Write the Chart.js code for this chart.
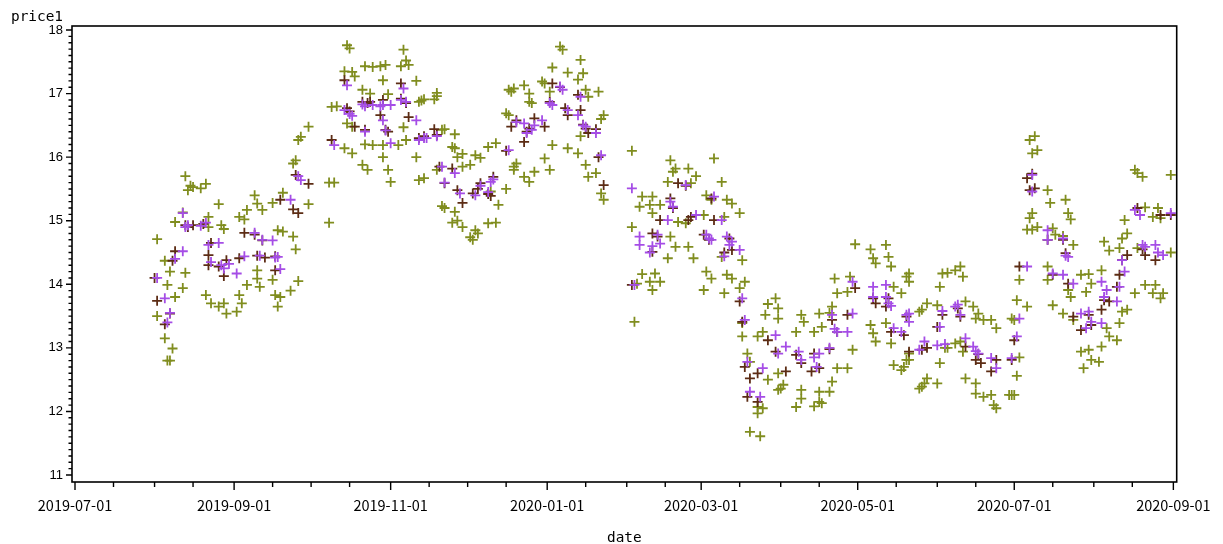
<!DOCTYPE html>
<html>
<head>
<meta charset="utf-8">
<title>price1 by date</title>
<script src="https://cdn.jsdelivr.net/npm/chart.js@4/dist/chart.umd.min.js"></script>
<style>
  html, body { margin: 0; padding: 0; background: #fff; }
  canvas { display: block; }
</style>
</head>
<body>
<canvas id="chart" width="1223" height="544"></canvas>
<script>
// Tick labels
const xTickLabels = ['2019-07-01', '2019-09-01', '2019-11-01', '2020-01-01', '2020-03-01', '2020-05-01', '2020-07-01', '2020-09-01'];
const yTickLabels = [11, 12, 13, 14, 15, 16, 17, 18];

// Series: [date, price1]
const olivePoints = [
  ['2019-08-02',14.71],['2019-08-02',13.5],['2019-08-05',13.15],['2019-08-05',14.37],['2019-08-06',12.8],['2019-08-06',13.99],['2019-08-07',12.8],['2019-08-07',14.2],['2019-08-08',12.99],['2019-08-09',13.8],['2019-08-09',14.98],['2019-08-12',13.94],['2019-08-12',15.13],['2019-08-13',15.7],['2019-08-13',14.18],['2019-08-14',15.48],['2019-08-15',15.55],['2019-08-16',15.53],['2019-08-19',15.51],['2019-08-21',15.58],['2019-08-21',13.83],['2019-08-22',15.06],['2019-08-22',14.9],['2019-08-23',13.7],['2019-08-26',15.26],['2019-08-26',13.65],['2019-08-27',14.93],['2019-08-28',14.87],['2019-08-28',13.7],['2019-08-29',13.54],
  ['2019-09-02',13.57],['2019-09-03',15.06],['2019-09-03',13.83],['2019-09-04',13.7],['2019-09-05',15.02],['2019-09-06',15.17],['2019-09-06',13.99],['2019-09-09',15.4],['2019-09-10',15.27],['2019-09-10',14.22],['2019-09-10',14.09],['2019-09-11',13.96],['2019-09-12',15.17],['2019-09-16',15.28],['2019-09-16',14.07],['2019-09-17',13.83],['2019-09-18',13.65],['2019-09-18',14.85],['2019-09-19',13.8],['2019-09-20',15.44],['2019-09-20',14.83],['2019-09-23',13.9],['2019-09-24',14.75],['2019-09-24',15.9],['2019-09-25',14.55],['2019-09-25',15.95],['2019-09-26',16.27],['2019-09-26',14.05],['2019-09-27',16.32],['2019-09-30',16.48],['2019-09-30',15.26],
  ['2019-10-08',14.97],['2019-10-08',15.6],['2019-10-09',16.79],['2019-10-10',15.6],['2019-10-11',16.8],['2019-10-14',17.35],['2019-10-14',16.14],['2019-10-15',17.76],['2019-10-15',16.53],['2019-10-16',17.71],['2019-10-17',17.34],['2019-10-17',16.48],['2019-10-17',16.06],['2019-10-18',17.27],['2019-10-21',17.06],['2019-10-21',15.88],['2019-10-22',17.43],['2019-10-22',16.2],['2019-10-23',15.8],['2019-10-24',17.0],['2019-10-25',17.42],['2019-10-25',16.19],['2019-10-28',17.43],['2019-10-29',17.21],['2019-10-29',16.19],['2019-10-29',16.0],['2019-10-30',17.45],['2019-10-31',16.99],['2019-10-31',15.8],
  ['2019-11-01',15.61],['2019-11-04',16.19],['2019-11-05',17.43],['2019-11-06',17.69],['2019-11-06',16.47],['2019-11-07',17.52],['2019-11-07',16.27],['2019-11-08',17.45],['2019-11-11',17.2],['2019-11-11',16.0],['2019-11-12',16.87],['2019-11-12',15.64],['2019-11-13',16.89],['2019-11-14',16.91],['2019-11-14',15.67],['2019-11-18',16.91],['2019-11-19',17.01],['2019-11-19',16.96],['2019-11-19',15.8],['2019-11-21',16.43],['2019-11-21',15.23],['2019-11-22',16.44],['2019-11-22',15.2],['2019-11-25',16.16],['2019-11-25',14.97],['2019-11-26',16.36],['2019-11-26',16.14],['2019-11-26',15.14],['2019-11-27',16.0],['2019-11-27',15.0],['2019-11-29',16.05],['2019-11-29',15.85],['2019-11-29',14.9],
  ['2019-12-02',15.88],['2019-12-02',14.74],['2019-12-03',14.7],['2019-12-04',16.03],['2019-12-04',14.85],['2019-12-05',14.8],['2019-12-06',15.99],['2019-12-09',16.16],['2019-12-09',14.96],['2019-12-10',15.46],['2019-12-12',16.22],['2019-12-12',14.97],['2019-12-13',15.25],['2019-12-16',16.69],['2019-12-16',15.5],['2019-12-17',16.66],['2019-12-17',17.06],['2019-12-18',17.03],['2019-12-19',17.08],['2019-12-19',15.85],['2019-12-19',15.8],['2019-12-20',15.9],['2019-12-23',17.13],['2019-12-23',15.69],['2019-12-25',17.0],['2019-12-25',16.87],['2019-12-25',15.61],['2019-12-26',16.85],['2019-12-27',15.77],['2019-12-30',17.19],['2019-12-31',17.16],['2019-12-31',15.98],
  ['2020-01-02',17.03],['2020-01-02',15.8],['2020-01-03',17.41],['2020-01-03',16.19],['2020-01-06',17.74],['2020-01-07',17.69],['2020-01-09',17.33],['2020-01-09',16.14],['2020-01-13',17.22],['2020-01-13',16.06],['2020-01-14',17.53],['2020-01-14',16.33],['2020-01-15',17.32],['2020-01-16',17.06],['2020-01-16',15.88],['2020-01-17',16.95],['2020-01-17',15.69],['2020-01-20',15.75],['2020-01-21',17.03],['2020-01-22',16.6],['2020-01-22',15.43],['2020-01-23',16.66],['2020-01-23',15.33],
  ['2020-02-03',16.1],['2020-02-03',14.9],['2020-02-04',13.41],['2020-02-05',14.01],['2020-02-06',15.22],['2020-02-07',15.38],['2020-02-07',14.16],['2020-02-10',15.25],['2020-02-10',14.04],['2020-02-11',15.38],['2020-02-11',15.12],['2020-02-11',13.91],['2020-02-12',14.17],['2020-02-14',15.25],['2020-02-14',14.04],['2020-02-17',15.61],['2020-02-17',14.41],['2020-02-18',15.95],['2020-02-18',14.75],['2020-02-19',15.77],['2020-02-20',15.82],['2020-02-20',14.59],['2020-02-21',14.98],['2020-02-24',14.96],['2020-02-25',15.82],['2020-02-25',14.59],['2020-02-26',15.59],['2020-02-27',14.41],['2020-02-28',15.7],
  ['2020-03-02',15.09],['2020-03-02',13.91],['2020-03-03',15.4],['2020-03-03',14.2],['2020-03-05',15.33],['2020-03-05',14.09],['2020-03-06',15.98],['2020-03-09',15.61],['2020-03-09',14.43],['2020-03-10',15.06],['2020-03-10',13.86],['2020-03-11',15.33],['2020-03-11',14.15],['2020-03-13',15.27],['2020-03-13',14.09],['2020-03-16',15.12],['2020-03-16',13.94],['2020-03-17',14.38],['2020-03-17',13.39],['2020-03-17',13.18],['2020-03-18',14.04],['2020-03-19',12.91],['2020-03-20',12.78],['2020-03-20',11.68],['2020-03-23',13.18],['2020-03-23',12.07],['2020-03-23',11.97],['2020-03-24',11.61],['2020-03-25',13.25],['2020-03-25',12.05],['2020-03-26',13.52],['2020-03-27',13.69],['2020-03-27',12.5],['2020-03-30',13.78],['2020-03-31',13.62],['2020-03-31',13.46],['2020-03-31',12.6],['2020-03-31',12.34],
  ['2020-04-01',12.36],['2020-04-02',12.42],['2020-04-07',13.25],['2020-04-07',12.07],['2020-04-09',13.52],['2020-04-09',12.2],['2020-04-09',12.34],['2020-04-10',13.41],['2020-04-14',13.25],['2020-04-14',12.08],['2020-04-16',13.54],['2020-04-16',12.31],['2020-04-16',12.15],['2020-04-17',13.33],['2020-04-17',12.13],['2020-04-20',13.55],['2020-04-20',12.31],['2020-04-21',13.65],['2020-04-21',12.47],['2020-04-22',14.09],['2020-04-23',13.86],['2020-04-23',12.68],['2020-04-27',13.88],['2020-04-27',12.68],['2020-04-28',14.12],['2020-04-29',12.97],['2020-04-30',14.63],
  ['2020-05-06',14.55],['2020-05-06',13.36],['2020-05-07',14.41],['2020-05-07',13.23],['2020-05-08',14.33],['2020-05-08',13.1],['2020-05-12',14.62],['2020-05-12',13.39],['2020-05-13',14.43],['2020-05-14',14.28],['2020-05-14',13.07],['2020-05-15',13.96],['2020-05-15',12.73],['2020-05-18',13.86],['2020-05-18',12.65],['2020-05-19',12.7],['2020-05-20',14.12],['2020-05-20',12.81],['2020-05-21',14.04],['2020-05-21',14.17],['2020-05-21',12.81],['2020-05-21',12.91],['2020-05-25',13.57],['2020-05-25',12.36],['2020-05-26',13.6],['2020-05-26',12.39],['2020-05-27',12.44],['2020-05-28',13.7],['2020-05-28',12.52],
  ['2020-06-01',13.67],['2020-06-01',12.44],['2020-06-02',13.96],['2020-06-02',12.76],['2020-06-03',14.17],['2020-06-04',13.0],['2020-06-05',14.18],['2020-06-05',13.0],['2020-06-08',14.22],['2020-06-08',13.07],['2020-06-10',14.28],['2020-06-10',13.1],['2020-06-11',14.12],['2020-06-11',12.94],['2020-06-12',13.73],['2020-06-12',12.52],['2020-06-15',13.65],['2020-06-16',13.46],['2020-06-16',12.44],['2020-06-16',12.28],['2020-06-17',13.54],['2020-06-19',13.44],['2020-06-19',12.23],['2020-06-22',13.44],['2020-06-22',12.26],['2020-06-23',12.1],['2020-06-24',13.31],['2020-06-24',12.05],['2020-06-29',12.26],['2020-06-30',13.46],['2020-06-30',12.26],
  ['2020-07-01',13.44],['2020-07-01',12.26],['2020-07-02',13.75],['2020-07-02',12.56],['2020-07-03',12.85],['2020-07-03',14.07],['2020-07-06',13.65],['2020-07-06',14.86],['2020-07-07',16.27],['2020-07-07',15.04],['2020-07-08',16.06],['2020-07-08',15.12],['2020-07-08',14.86],['2020-07-09',16.33],['2020-07-10',16.11],['2020-07-10',14.9],['2020-07-14',15.48],['2020-07-14',14.28],['2020-07-14',14.07],['2020-07-15',15.28],['2020-07-16',14.88],['2020-07-16',13.67],['2020-07-17',14.78],['2020-07-20',14.76],['2020-07-20',13.54],['2020-07-21',15.33],['2020-07-22',15.12],['2020-07-22',13.91],['2020-07-23',15.02],['2020-07-23',13.8],['2020-07-24',14.62],['2020-07-24',13.44],['2020-07-27',14.15],['2020-07-27',12.94],['2020-07-28',12.68],['2020-07-29',13.88],['2020-07-30',14.16],['2020-07-30',12.97],['2020-07-31',14.01],['2020-07-31',12.81],
  ['2020-08-03',12.78],['2020-08-04',14.22],['2020-08-04',13.02],['2020-08-05',14.67],['2020-08-06',13.31],['2020-08-07',14.53],['2020-08-07',13.18],['2020-08-10',13.12],['2020-08-11',14.57],['2020-08-11',13.39],['2020-08-12',14.72],['2020-08-12',13.57],['2020-08-13',15.01],['2020-08-14',14.8],['2020-08-14',13.6],['2020-08-17',15.8],['2020-08-17',13.86],['2020-08-18',15.75],['2020-08-18',14.57],['2020-08-20',15.69],['2020-08-21',15.21],['2020-08-21',13.99],['2020-08-24',15.06],['2020-08-24',13.86],['2020-08-25',13.99],['2020-08-26',15.2],['2020-08-27',15.04],['2020-08-27',13.78],['2020-08-28',13.86],['2020-08-31',15.72],['2020-08-31',14.5]
];

const brownPoints = [
  ['2019-08-01',14.1],['2019-08-02',13.74],['2019-08-05',13.37],['2019-08-07',13.54],['2019-08-08',14.37],['2019-08-09',14.52],['2019-08-13',14.93],['2019-08-14',14.9],['2019-08-16',14.93],['2019-08-20',14.95],['2019-08-22',14.46],['2019-08-22',14.3],['2019-08-23',14.65],['2019-08-26',14.28],['2019-08-28',14.13],['2019-08-29',14.38],
  ['2019-09-03',14.41],['2019-09-05',14.81],['2019-09-09',14.78],['2019-09-10',14.45],['2019-09-12',14.69],['2019-09-13',14.42],['2019-09-17',14.44],['2019-09-17',14.22],['2019-09-19',15.33],['2019-09-24',15.18],['2019-09-25',15.72],['2019-09-26',15.12],['2019-09-30',15.58],
  ['2019-10-09',16.27],['2019-10-14',17.21],['2019-10-15',16.77],['2019-10-16',16.72],['2019-10-18',16.48],['2019-10-21',16.87],['2019-10-22',16.43],['2019-10-23',16.85],['2019-10-24',16.87],['2019-10-28',16.66],['2019-10-29',16.9],['2019-10-30',16.43],['2019-10-31',16.4],
  ['2019-11-05',17.16],['2019-11-05',16.92],['2019-11-07',16.85],['2019-11-08',16.63],['2019-11-12',16.3],['2019-11-14',16.33],['2019-11-18',16.44],['2019-11-19',16.35],['2019-11-20',15.85],['2019-11-22',15.59],['2019-11-25',15.82],['2019-11-27',15.48],['2019-11-29',15.28],
  ['2019-12-03',15.43],['2019-12-05',15.5],['2019-12-06',15.59],['2019-12-09',15.42],['2019-12-10',15.39],['2019-12-11',15.69],['2019-12-16',16.1],['2019-12-18',16.48],['2019-12-20',16.58],['2019-12-23',16.24],['2019-12-24',16.4],['2019-12-25',16.45],['2019-12-27',16.61],['2019-12-31',16.48],
  ['2020-01-02',16.87],['2020-01-03',17.16],['2020-01-06',17.1],['2020-01-08',16.77],['2020-01-09',16.66],['2020-01-13',16.98],['2020-01-14',16.74],['2020-01-15',16.51],['2020-01-16',16.45],['2020-01-17',16.38],['2020-01-20',16.44],['2020-01-21',16.0],['2020-01-23',15.56],
  ['2020-02-03',13.99],['2020-02-11',14.51],['2020-02-11',14.8],['2020-02-13',14.75],['2020-02-14',15.01],['2020-02-18',15.35],['2020-02-19',15.2],['2020-02-21',15.59],['2020-02-24',15.55],['2020-02-25',15.01],['2020-02-26',15.06],
  ['2020-03-02',14.78],['2020-03-04',14.7],['2020-03-05',15.35],['2020-03-06',15.01],['2020-03-10',14.5],['2020-03-12',14.72],['2020-03-13',14.54],['2020-03-16',13.73],['2020-03-17',13.41],['2020-03-18',12.7],['2020-03-19',12.23],['2020-03-20',12.52],['2020-03-23',12.6],['2020-03-23',12.15],['2020-03-27',13.12],['2020-03-30',12.94],
  ['2020-04-03',12.63],['2020-04-07',12.89],['2020-04-09',12.76],['2020-04-13',12.63],['2020-04-14',12.91],['2020-04-16',12.68],['2020-04-20',12.98],['2020-04-21',13.44],['2020-04-23',13.25],['2020-04-27',13.52],['2020-04-30',13.94],
  ['2020-05-07',13.78],['2020-05-08',13.7],['2020-05-12',13.65],['2020-05-13',13.78],['2020-05-14',13.25],['2020-05-19',13.2],['2020-05-20',13.49],['2020-05-21',12.94],['2020-05-26',12.97],['2020-05-28',13.0],
  ['2020-06-01',13.33],['2020-06-03',13.52],['2020-06-09',13.62],['2020-06-10',13.49],['2020-06-12',13.02],['2020-06-16',12.81],['2020-06-17',12.9],['2020-06-18',12.76],['2020-06-22',12.63],['2020-06-24',12.81],['2020-06-30',12.81],
  ['2020-07-01',13.12],['2020-07-03',14.28],['2020-07-06',15.67],['2020-07-07',15.48],['2020-07-08',15.74],['2020-07-09',15.51],['2020-07-14',14.7],['2020-07-16',14.15],['2020-07-20',14.7],['2020-07-21',14.49],['2020-07-22',14.01],['2020-07-24',13.49],['2020-07-27',13.28],['2020-07-30',13.52],['2020-07-31',13.36],
  ['2020-08-04',13.6],['2020-08-05',13.75],['2020-08-07',13.73],['2020-08-10',13.96],['2020-08-11',14.15],['2020-08-12',14.38],['2020-08-14',14.46],['2020-08-18',15.2],['2020-08-20',14.55],['2020-08-21',14.46],['2020-08-25',14.38],['2020-08-27',15.09],['2020-08-31',15.09]
];

const purplePoints = [
  ['2019-08-02',14.1],['2019-08-05',13.78],['2019-08-06',13.4],['2019-08-07',13.55],['2019-08-09',14.4],['2019-08-12',14.52],['2019-08-12',15.12],['2019-08-13',14.9],['2019-08-14',14.93],['2019-08-19',14.92],['2019-08-21',14.97],['2019-08-22',14.62],['2019-08-23',14.35],['2019-08-26',14.65],['2019-08-27',14.3],['2019-08-28',14.25],['2019-08-30',14.32],
  ['2019-09-02',14.17],['2019-09-05',14.44],['2019-09-09',14.81],['2019-09-11',14.45],['2019-09-12',14.7],['2019-09-16',14.69],['2019-09-17',14.42],['2019-09-18',14.43],['2019-09-19',14.24],['2019-09-23',15.33],['2019-09-26',15.7],['2019-09-27',15.64],
  ['2019-10-10',16.19],['2019-10-14',16.74],['2019-10-15',17.13],['2019-10-16',16.68],['2019-10-17',16.65],['2019-10-21',16.83],['2019-10-22',16.8],['2019-10-22',16.4],['2019-10-25',16.82],['2019-10-28',16.8],['2019-10-29',16.82],['2019-10-29',16.58],['2019-10-30',16.42],
  ['2019-11-01',16.82],['2019-11-01',16.22],['2019-11-05',16.9],['2019-11-06',17.08],['2019-11-07',16.87],['2019-11-11',16.58],['2019-11-12',16.27],['2019-11-14',16.3],['2019-11-15',16.3],['2019-11-19',16.33],['2019-11-21',15.85],['2019-11-22',15.6],['2019-11-26',15.75],['2019-11-28',15.43],
  ['2019-12-04',15.4],['2019-12-06',15.55],['2019-12-09',15.45],['2019-12-10',15.61],['2019-12-11',15.65],['2019-12-17',16.11],['2019-12-20',16.55],['2019-12-23',16.53],['2019-12-24',16.38],['2019-12-26',16.43],['2019-12-27',16.5],['2019-12-30',16.58],
  ['2020-01-02',16.85],['2020-01-03',16.82],['2020-01-06',17.11],['2020-01-07',17.06],['2020-01-09',16.74],['2020-01-13',16.66],['2020-01-14',16.95],['2020-01-15',16.5],['2020-01-16',16.48],['2020-01-20',16.38],['2020-01-22',16.03],
  ['2020-02-03',15.51],['2020-02-04',13.99],['2020-02-06',14.75],['2020-02-06',14.62],['2020-02-10',14.5],['2020-02-11',14.6],['2020-02-13',14.78],['2020-02-14',14.64],['2020-02-17',15.01],['2020-02-18',15.3],['2020-02-19',15.22],['2020-02-24',15.56],['2020-02-28',15.09],
  ['2020-03-03',14.78],['2020-03-04',14.72],['2020-03-05',14.7],['2020-03-06',15.38],['2020-03-09',15.01],['2020-03-10',14.44],['2020-03-11',14.75],['2020-03-12',14.62],['2020-03-13',14.67],['2020-03-16',14.54],['2020-03-17',13.78],['2020-03-18',13.44],['2020-03-19',12.78],['2020-03-20',12.31],['2020-03-24',12.23],['2020-03-25',12.68],['2020-03-30',13.2],['2020-03-31',12.91],
  ['2020-04-03',13.02],['2020-04-08',12.94],['2020-04-09',12.81],['2020-04-14',12.85],['2020-04-15',12.7],['2020-04-16',12.91],['2020-04-20',13.0],['2020-04-21',13.52],['2020-04-22',13.3],['2020-04-23',13.25],['2020-04-27',13.25],['2020-04-29',13.54],['2020-04-29',14.04],
  ['2020-05-07',13.96],['2020-05-07',13.8],['2020-05-12',13.99],['2020-05-12',13.8],['2020-05-13',13.7],['2020-05-14',13.66],['2020-05-15',13.31],['2020-05-18',13.25],['2020-05-20',13.52],['2020-05-21',13.41],['2020-05-21',13.54],['2020-05-25',12.97],['2020-05-27',13.1],
  ['2020-06-01',13.04],['2020-06-02',13.33],['2020-06-03',13.58],['2020-06-04',13.06],['2020-06-08',13.65],['2020-06-09',13.68],['2020-06-10',13.52],['2020-06-12',13.15],['2020-06-15',13.02],['2020-06-16',12.95],['2020-06-17',12.91],['2020-06-22',12.84],['2020-06-24',12.68],['2020-06-30',12.84],
  ['2020-07-02',13.18],['2020-07-03',13.46],['2020-07-06',14.28],['2020-07-08',15.72],['2020-07-08',15.46],['2020-07-14',14.85],['2020-07-14',14.7],['2020-07-16',14.17],['2020-07-20',14.72],['2020-07-20',14.15],['2020-07-21',14.45],['2020-07-22',14.43],['2020-07-24',14.01],['2020-07-27',13.54],['2020-07-29',13.31],['2020-07-30',13.57],['2020-07-31',13.41],
  ['2020-08-04',13.39],['2020-08-04',14.04],['2020-08-05',13.8],['2020-08-06',13.91],['2020-08-10',13.73],['2020-08-11',13.96],['2020-08-12',14.38],['2020-08-13',14.2],['2020-08-17',15.17],['2020-08-19',15.09],['2020-08-20',14.62],['2020-08-21',14.59],['2020-08-25',14.62],['2020-08-26',14.5],['2020-08-28',14.46],['2020-08-31',15.12]
];

// Colours
const OLIVE = '#808d1f';
const BROWN = '#5c2c14';
const PURPLE = '#a54de6';

const DAY = 86400000;
const toTime = (s) => {
  const [yy, mm, dd] = s.split('-').map(Number);
  return Date.UTC(yy, mm - 1, dd);
};
const toXY = (pts) => pts.map(([d, v]) => ({ x: toTime(d), y: v }));
const fmtDate = (t) => new Date(t).toISOString().slice(0, 10);

// Axis ticks: the 1st and 16th of every month; labels on every other month
const xStart = toTime(xTickLabels[0]);
const xEnd = toTime(xTickLabels[xTickLabels.length - 1]);
const xTickTimes = [];
for (let y = 2019, m = 6; ; m++) {
  if (m > 11) { m = 0; y++; }
  const first = Date.UTC(y, m, 1);
  if (first > xEnd) break;
  xTickTimes.push(first);
  const mid = Date.UTC(y, m, 16);
  if (mid < xEnd) xTickTimes.push(mid);
}
const labelledTimes = new Set(xTickLabels.map(toTime));

const Y_MIN = 10.89, Y_MAX = 18.063;

const frame = {
  id: 'frame',
  afterDraw(chart) {
    const { ctx, chartArea: a, scales: { x, y } } = chart;
    ctx.save();
    ctx.strokeStyle = '#000';
    ctx.lineWidth = 1.6;
    ctx.strokeRect(a.left, a.top, a.right - a.left, a.bottom - a.top);

    ctx.lineWidth = 1.4;
    ctx.beginPath();
    xTickTimes.forEach((t) => {
      const px = x.getPixelForValue(t);
      const len = labelledTimes.has(t) ? 8 : 5;
      ctx.moveTo(px, a.bottom);
      ctx.lineTo(px, a.bottom + len);
    });
    for (let i = 0; i <= 70; i++) {
      const v = 11 + i / 10;
      const py = y.getPixelForValue(v);
      const len = i % 10 === 0 ? 6 : 3.5;
      ctx.moveTo(a.left, py);
      ctx.lineTo(a.left - len, py);
    }
    ctx.stroke();

    ctx.fillStyle = '#000';
    ctx.font = '14.4px "DejaVu Sans Mono"';
    ctx.textBaseline = 'alphabetic';
    ctx.textAlign = 'left';
    ctx.fillText('price1', 11, 21);
    ctx.textAlign = 'center';
    ctx.fillText('date', (a.left + a.right) / 2, 542);
    ctx.restore();
  }
};

const marker = { pointStyle: 'cross', pointRadius: 5, pointHoverRadius: 5, borderWidth: 1.8, pointBorderWidth: 1.8, showLine: false };

new Chart(document.getElementById('chart'), {
  type: 'scatter',
  data: {
    datasets: [
      { label: 'b', data: toXY(purplePoints), borderColor: PURPLE, backgroundColor: PURPLE, ...marker },
      { label: 'a', data: toXY(brownPoints), borderColor: BROWN, backgroundColor: BROWN, ...marker },
      { label: 'c', data: toXY(olivePoints), borderColor: OLIVE, backgroundColor: OLIVE, ...marker }
    ]
  },
  options: {
    responsive: false,
    devicePixelRatio: 1,
    animation: false,
    events: [],
    layout: { padding: { left: 0, top: 26, right: 46.3, bottom: 0 } },
    plugins: { legend: { display: false }, tooltip: { enabled: false } },
    scales: {
      x: {
        type: 'linear',
        min: xStart - 1.17 * DAY,
        max: xStart + 429.3 * DAY,
        afterFit: (s) => { s.height = 62; },
        afterBuildTicks: (s) => { s.ticks = xTickTimes.map((v) => ({ value: v })); },
        grid: { display: true, drawOnChartArea: false, drawTicks: true, tickLength: 8, tickColor: 'rgba(0,0,0,0)' },
        border: { display: false },
        ticks: {
          autoSkip: false, maxRotation: 0, minRotation: 0, padding: 7,
          color: '#000',
          font: { family: '"Noto Sans CJK SC"', size: 14.5 },
          callback: (v) => labelledTimes.has(v) ? fmtDate(v) : ''
        }
      },
      y: {
        type: 'linear',
        min: Y_MIN,
        max: Y_MAX,
        afterFit: (s) => { s.width = 72; },
        afterBuildTicks: (s) => { s.ticks = yTickLabels.map((v) => ({ value: v })); },
        grid: { display: true, drawOnChartArea: false, drawTicks: true, tickLength: 6, tickColor: 'rgba(0,0,0,0)' },
        border: { display: false },
        ticks: {
          padding: 3,
          color: '#000',
          font: { family: '"Liberation Sans"', size: 13 },
          callback: (v) => String(v)
        }
      }
    }
  },
  plugins: [frame]
});
</script>
</body>
</html>
